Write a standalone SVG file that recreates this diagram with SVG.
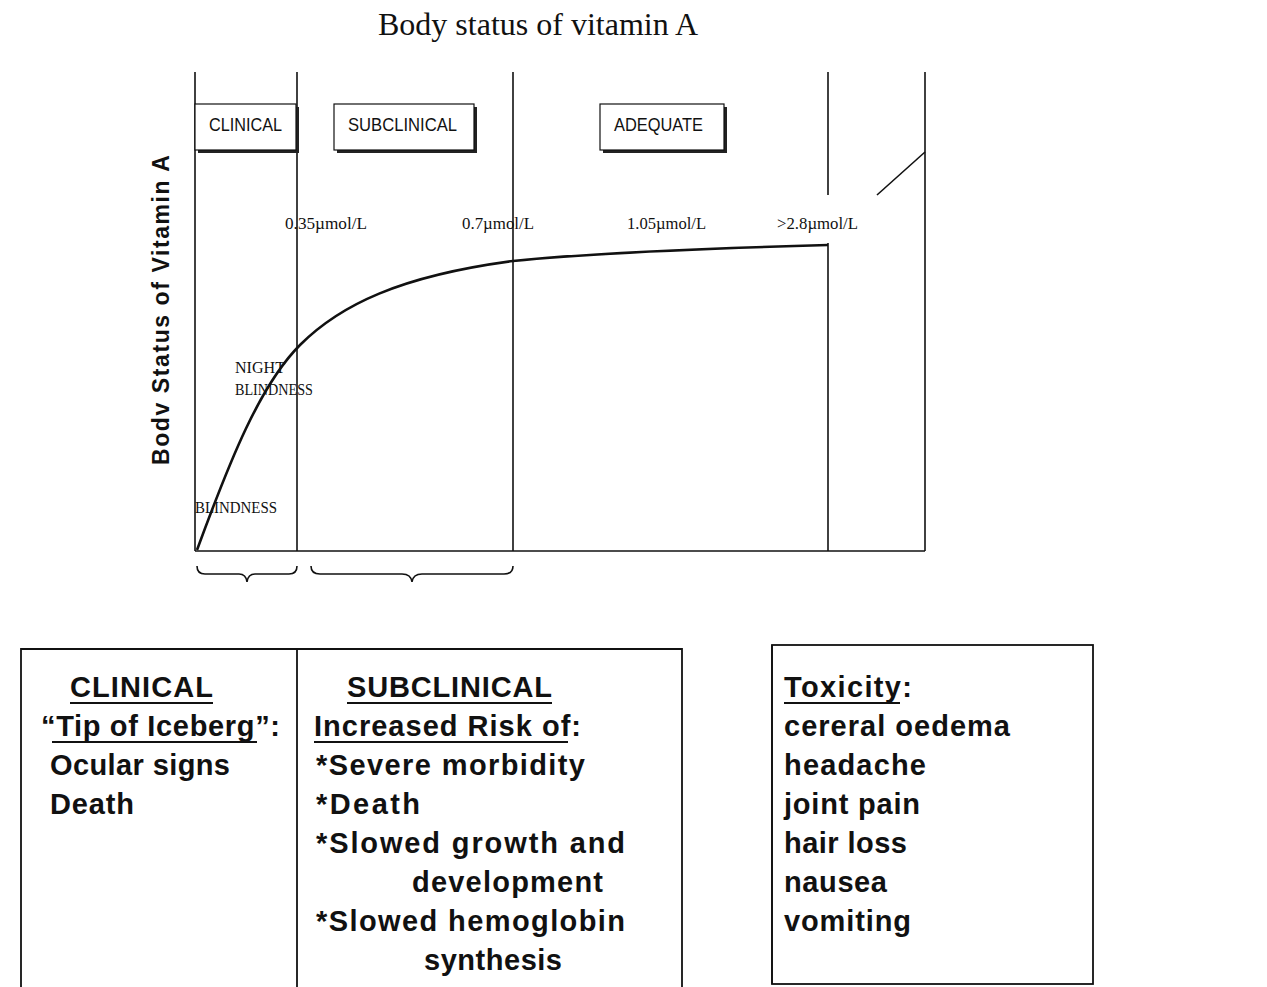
<svg xmlns="http://www.w3.org/2000/svg" width="1267" height="987" viewBox="0 0 1267 987">
<style>
.ln{stroke:#111;stroke-width:1.6;fill:none}
.curve{stroke:#111;stroke-width:2.6;fill:none}
.box{fill:#fff;stroke:#111;stroke-width:1.2}
.shadow{fill:#222}
.tag{font-family:"Liberation Sans",Arial,sans-serif;font-size:18px;fill:#111}
.conc{font-family:"Liberation Serif","Times New Roman",serif;font-size:16px;fill:#111}
.big{font-family:"Liberation Sans",Arial,sans-serif;font-size:29px;font-weight:bold;fill:#111}
.ul{stroke:#111;stroke-width:2}
.tbl{fill:none;stroke:#111;stroke-width:1.8}
</style>
<rect width="1267" height="987" fill="#fff"/>
<g id="title">
<text x="538" y="35" text-anchor="middle" font-family="Liberation Serif, Times New Roman, serif" font-size="32" fill="#111">Body status of vitamin A</text>
</g>
<g id="y-axis-label">
<text transform="translate(169,310) rotate(-90)" text-anchor="middle" font-family="Liberation Sans, Arial, sans-serif" font-weight="bold" font-size="23" fill="#111" textLength="310" lengthAdjust="spacing">Bodv Status of Vitamin A</text>
</g>
<g id="plot-frame">
<line class="ln" x1="195" y1="72" x2="195" y2="551"/>
<line class="ln" x1="297" y1="72" x2="297" y2="551"/>
<line class="ln" x1="513" y1="72" x2="513" y2="551"/>
<line class="ln" x1="828" y1="72" x2="828" y2="195"/>
<line class="ln" x1="828" y1="243" x2="828" y2="551"/>
<line class="ln" x1="925" y1="72" x2="925" y2="551"/>
<line class="ln" x1="195" y1="551" x2="925" y2="551"/>
</g>
<g id="node-clinical-tag">
<rect class="shadow" x="198" y="107" width="101" height="46"/>
<rect class="box" x="195" y="104" width="101" height="46"/>
<text class="tag" x="209" y="131" textLength="73" lengthAdjust="spacingAndGlyphs">CLINICAL</text>
</g>
<g id="node-subclinical-tag">
<rect class="shadow" x="337" y="107" width="140" height="46"/>
<rect class="box" x="334" y="104" width="140" height="46"/>
<text class="tag" x="348" y="131" textLength="109" lengthAdjust="spacingAndGlyphs">SUBCLINICAL</text>
</g>
<g id="node-adequate-tag">
<rect class="shadow" x="603" y="107" width="124" height="46"/>
<rect class="box" x="600" y="104" width="124" height="46"/>
<text class="tag" x="614" y="131" textLength="89" lengthAdjust="spacingAndGlyphs">ADEQUATE</text>
</g>
<g id="concentration-labels">
<text class="conc" x="285" y="229" textLength="82" lengthAdjust="spacingAndGlyphs">0.35µmol/L</text>
<text class="conc" x="462" y="229" textLength="72" lengthAdjust="spacingAndGlyphs">0.7µmol/L</text>
<text class="conc" x="627" y="229" textLength="79" lengthAdjust="spacingAndGlyphs">1.05µmol/L</text>
<text class="conc" x="777" y="229" textLength="81" lengthAdjust="spacingAndGlyphs">&gt;2.8µmol/L</text>
</g>
<g id="connectors">
<path class="curve" d="M197,550 C230,460 260,385 300,345 S400,276 513,261 C600,252 720,248 828,245"/>
<line class="ln" x1="877" y1="195" x2="925" y2="152" stroke-width="2"/>
<path class="ln" d="M197,566 Q197,574 205,574 L239,574 Q246,574 247,582 Q248,574 255,574 L289,574 Q297,574 297,566"/>
<path class="ln" d="M311,566 Q311,574 320,574 L402,574 Q411,574 412,582 Q413,574 422,574 L504,574 Q513,574 513,566"/>
</g>
<g id="curve-labels">
<text class="conc" x="235" y="373" textLength="50" lengthAdjust="spacingAndGlyphs">NIGHT</text>
<text class="conc" x="235" y="395" textLength="78" lengthAdjust="spacingAndGlyphs">BLINDNESS</text>
<text class="conc" x="195" y="513" textLength="82" lengthAdjust="spacingAndGlyphs">BLINDNESS</text>
</g>
<g id="node-clinical-table">
<polyline class="tbl" points="21,995 21,649 682,649 682,995"/>
<line class="tbl" x1="297" y1="649" x2="297" y2="995"/>
<text class="big" x="70" y="697" textLength="143" lengthAdjust="spacing">CLINICAL</text>
<line class="ul" x1="70" y1="703" x2="213" y2="703"/>
<text class="big" x="41" y="736" textLength="239" lengthAdjust="spacing">“Tip of Iceberg”:</text>
<line class="ul" x1="52" y1="742" x2="257" y2="742"/>
<text class="big" x="50" y="775" textLength="180" lengthAdjust="spacing">Ocular signs</text>
<text class="big" x="50" y="814" textLength="84" lengthAdjust="spacing">Death</text>
</g>
<g id="node-subclinical-table">
<text class="big" x="347" y="697" textLength="205" lengthAdjust="spacing">SUBCLINICAL</text>
<line class="ul" x1="347" y1="703" x2="552" y2="703"/>
<text class="big" x="314" y="736" textLength="267" lengthAdjust="spacing">Increased Risk of:</text>
<line class="ul" x1="314" y1="742" x2="568" y2="742"/>
<text class="big" x="316" y="775" textLength="269" lengthAdjust="spacing">*Severe morbidity</text>
<text class="big" x="316" y="814" textLength="104" lengthAdjust="spacing">*Death</text>
<text class="big" x="316" y="853" textLength="309" lengthAdjust="spacing">*Slowed growth and</text>
<text class="big" x="412" y="892" textLength="191" lengthAdjust="spacing">development</text>
<text class="big" x="316" y="931" textLength="309" lengthAdjust="spacing">*Slowed hemoglobin</text>
<text class="big" x="424" y="970" textLength="138" lengthAdjust="spacing">synthesis</text>
</g>
<g id="node-toxicity">
<rect class="tbl" x="772" y="645" width="321" height="339"/>
<line class="ln" x1="772" y1="645" x2="772" y2="984" stroke-width="3"/>
<text class="big" x="784" y="697" textLength="128" lengthAdjust="spacing">Toxicity:</text>
<line class="ul" x1="784" y1="703" x2="900" y2="703"/>
<text class="big" x="784" y="736" textLength="226" lengthAdjust="spacing">cereral oedema</text>
<text class="big" x="784" y="775" textLength="142" lengthAdjust="spacing">headache</text>
<text class="big" x="784" y="814" textLength="136" lengthAdjust="spacing">joint pain</text>
<text class="big" x="784" y="853" textLength="123" lengthAdjust="spacing">hair loss</text>
<text class="big" x="784" y="892" textLength="103" lengthAdjust="spacing">nausea</text>
<text class="big" x="784" y="931" textLength="127" lengthAdjust="spacing">vomiting</text>
</g>
</svg>
